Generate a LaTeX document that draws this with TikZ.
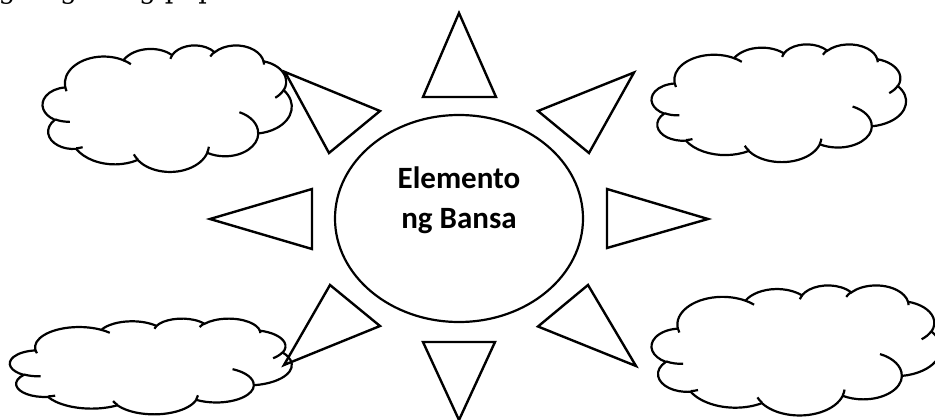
\documentclass[tikz,border=0pt]{standalone}
\usepackage{fontspec}
\newfontfamily\calibrifont{Carlito}
\newfontfamily\hdrfont{DejaVu Serif}
\usetikzlibrary{shapes.geometric}

% Office-style elliptical arc: radii wR hR, start angle and sweep (geometric, y down)
\newcommand\oarc[4]{\pgfextra{%
  \pgfmathsetmacro\cldA{#3}%
  \pgfmathsetmacro\cldB{#3+#4}%
  \pgfmathsetmacro\cldTA{atan2(sin(\cldA)*#1,cos(\cldA)*#2)}%
  \pgfmathsetmacro\cldTB{atan2(sin(\cldB)*#1,cos(\cldB)*#2)}%
  \pgfmathsetmacro\cldTB{(#4>0)?((\cldTB<\cldTA)?(\cldTB+360):\cldTB):((\cldTB>\cldTA)?(\cldTB-360):\cldTB)}%
  \global\let\cldGA\cldTA \global\let\cldGB\cldTB}%
  arc[start angle=\cldGA, end angle=\cldGB, x radius=#1, y radius=#2]}

\newcommand\cloudshape[4]{%
\begin{scope}[shift={(#1,#2)}, xscale=#3/432, yscale=#4/432]
  \draw[cloudline, fill=white] (39.00,143.70)
    \oarc{67.53}{91.90}{-190.48748}{123.78053}
    \oarc{53.33}{72.67}{-144.10238}{89.94523}
    \oarc{43.65}{59.45}{-145.80792}{99.72302}
    \oarc{48.57}{65.95}{-130.98607}{117.24173}
    \oarc{53.33}{72.73}{-78.70888}{109.02692}
    \oarc{67.75}{92.20}{-46.26725}{130.26900}
    \oarc{57.85}{78.67}{0.62502}{114.03333}
    \oarc{67.52}{92.15}{22.45160}{115.17255}
    \oarc{77.20}{105.43}{66.24263}{75.71102}
    \oarc{43.60}{59.18}{-274.94208}{146.73557}
    \oarc{43.45}{59.45}{-246.82850}{152.51885}
    -- cycle;
  \draw[cloudline]
    (46.93,261.77) \oarc{43.45}{59.45}{86.74200}{26.42950}
    (69.28,348.99) \oarc{43.60}{59.18}{73.61047}{11.44747}
    (164.78,390.90) \oarc{67.52}{92.15}{137.62415}{14.08110}
    (288.27,347.51) \oarc{67.52}{92.15}{6.45327}{15.99835}
    (341.29,229.54) \oarc{57.85}{78.67}{-70.29235}{70.91737}
    (417.98,153.54) \oarc{53.33}{72.73}{30.31803}{27.75150}
    (383.24,54.26) \oarc{48.57}{65.95}{-13.74433}{14.85890}
    (290.78,39.52) \oarc{48.57}{65.95}{-149.18145}{18.19537}
    (221.41,47.20) \oarc{43.65}{59.45}{-163.49427}{17.68635}
    (140.00,51.92) \oarc{67.53}{91.90}{-66.70695}{12.31935}
    (41.27,157.89) \oarc{67.53}{91.90}{157.65435}{11.85817};
\end{scope}}

\begin{document}
\begin{tikzpicture}[x=1pt,y=-1pt,
  cloudline/.style={line width=2.2pt, draw=black},
  ray/.style={draw=black, line width=2.4pt, line join=miter},
  sunbox/.style={draw=black, line width=2.2pt, ellipse, inner sep=0pt,
    minimum width=248pt, minimum height=207pt},
  sunlabel/.style={font=\calibrifont\bfseries\fontsize{31}{40}\selectfont, align=center, inner sep=0pt},
  hdr/.style={font=\hdrfont\fontsize{27}{30}\selectfont, inner sep=0pt}]
\useasboundingbox (0,0) rectangle (935,420);
\fill[white] (0,0) rectangle (935,420);
\clip (0,0) rectangle (935,420);

% header line, cut off by the top edge
\node[hdr, anchor=base east] (hdrA) at (16,-1) {iyong};
\node[hdr, anchor=base west] (hdrB) at (30,-1) {sagutang papel.};

% clouds
\cloudshape{42.7}{45}{249}{126.5}
\cloudshape{651.7}{44}{254.3}{117.7}
\cloudshape{10}{318.3}{281.7}{95.7}
\cloudshape{651.7}{285}{289}{130}

% rays
\draw[ray] (459,13) -- (423,97) -- (496,97) -- cycle;
\draw[ray] (423,342) -- (495,342) -- (459,420) -- cycle;
\draw[ray] (210,219) -- (312,189) -- (312,249) -- cycle;
\draw[ray] (607,189) -- (607,248) -- (708,219) -- cycle;
\draw[ray] (285,72) -- (380,111) -- (329,153) -- cycle;
\draw[ray] (634,72.5) -- (538,111) -- (589,153) -- cycle;
\draw[ray] (330,285) -- (380,326) -- (284,365) -- cycle;
\draw[ray] (588,285) -- (538,326.5) -- (636,366) -- cycle;

% centre
\node[sunbox] (sun) at (459,218.5) {};
\node[sunlabel] (sunText) at (459,200.5) {Elemento\\ng Bansa};
\end{tikzpicture}
\end{document}
